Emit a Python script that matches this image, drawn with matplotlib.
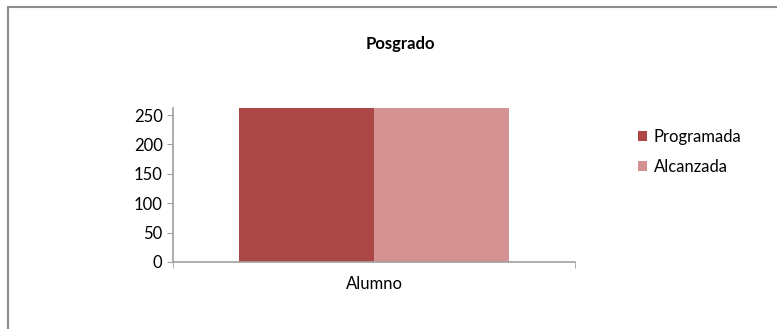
import matplotlib.pyplot as plt
from matplotlib.patches import Rectangle

categories = ["Alumno"]
series = ["Programada", "Alcanzada"]
programada = [262]
alcanzada = [262]
colors = ["#ab4746", "#d49392"]

W, H = 777, 329
fig = plt.figure(figsize=(W / 100, H / 100), dpi=100)
plt.rcParams['font.family'] = ['Lato', 'DejaVu Sans']

# outer frame (partly cut off like the original screenshot)
fig.patches.append(Rectangle((8 / W, -0.1), 1.2, 1 - 7 / H + 0.1, transform=fig.transFigure,
                             fill=False, edgecolor="#8c8c8c", linewidth=1.5))

ax = fig.add_axes([173 / W, 1 - 262 / H, (575 - 173) / W, (262 - 108) / H])
w = 0.336
ax.bar([0 - w / 2], programada, width=w, color=colors[0], label=series[0])
ax.bar([0 + w / 2], alcanzada, width=w, color=colors[1], label=series[1])
ax.set_xlim(-0.5, 0.5)
ax.set_ylim(0, 262)
ax.set_yticks(range(0, 251, 50))
ax.set_xticks([-0.5, 0.5], minor=True)
ax.set_xticks([0])
ax.set_xticklabels(categories)
for s in ["top", "right"]:
    ax.spines[s].set_visible(False)
for s in ["left", "bottom"]:
    ax.spines[s].set_color("#a0a0a0")
    ax.spines[s].set_linewidth(1.2)
ax.tick_params(axis="y", colors="#a0a0a0", labelcolor="black", labelsize=12, length=4, direction="out")
ax.tick_params(axis="x", which="major", length=0, labelsize=12, pad=10)
ax.tick_params(axis="x", which="minor", colors="#a0a0a0", length=4, direction="out")

fig.text(400 / W, 1 - 44 / H, "Posgrado", ha="center", va="center", fontsize=12, fontweight="bold")
fig.legend(loc="upper left", bbox_to_anchor=(631 / W, 1 - 122 / H), frameon=False,
           fontsize=12, handlelength=0.55, handleheight=0.55, handletextpad=0.4,
           labelspacing=0.85, borderaxespad=0)

fig.savefig("out.png", dpi=100)
